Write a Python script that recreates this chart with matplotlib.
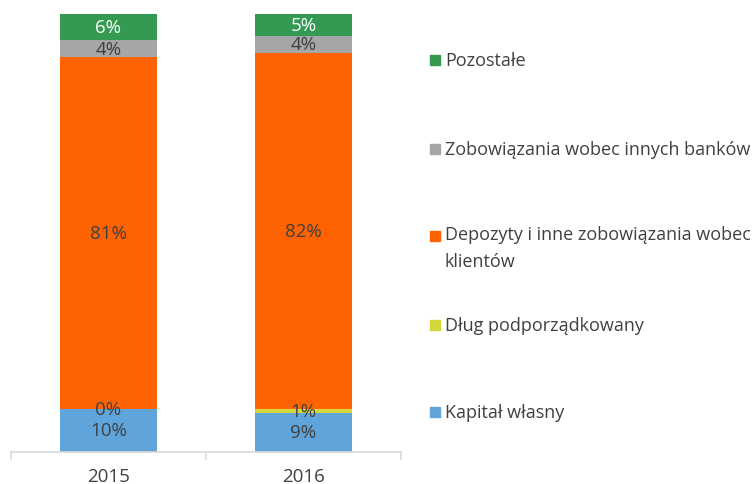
import matplotlib.pyplot as plt
from matplotlib.patches import Rectangle

plt.rcParams['font.family'] = ['Open Sans', 'DejaVu Sans']

years = ['2015', '2016']
series = ['Kapitał własny', 'Dług podporządkowany',
          'Depozyty i inne zobowiązania wobec\nklientów',
          'Zobowiązania wobec innych banków', 'Pozostałe']
kapital = [10, 9]
dlug = [0, 1]
depozyty = [81, 82]
banki = [4, 4]
pozostale = [6, 5]
colors = ['#5FA4DA', '#D2D83C', '#FF6200', '#A6A6A6', '#349A52']
label_colors = ['#404040', '#404040', '#404040', '#404040', 'white']

fig = plt.figure(figsize=(7.55, 4.85), dpi=100)
ax = fig.add_axes([11 / 755, 1 - 453 / 485, 390 / 755, 438 / 485])

x = range(len(years))
bottom = [0, 0]
for vals, col, lc in zip([kapital, dlug, depozyty, banki, pozostale], colors, label_colors):
    ax.bar(x, vals, bottom=bottom, width=0.5, color=col, linewidth=0)
    for i, v in enumerate(vals):
        ax.text(i, bottom[i] + v / 2, f'{v}%', ha='center', va='center',
                fontsize=13.5, color=lc)
    bottom = [b + v for b, v in zip(bottom, vals)]

ax.set_xlim(-0.5, 1.5)
ax.set_ylim(0, max(bottom))
ax.set_yticks([])
for s in ['top', 'right', 'left']:
    ax.spines[s].set_visible(False)
ax.spines['bottom'].set_color('#D9D9D9')
ax.spines['bottom'].set_linewidth(1.2)
ax.set_xticks(list(x))
ax.set_xticklabels(years, fontsize=13.5, color='#404040')
ax.tick_params(axis='x', which='major', length=0, pad=10.5)
ax.set_xticks([-0.5, 0.5, 1.5], minor=True)
ax.tick_params(axis='x', which='minor', length=6, width=1.2, color='#D9D9D9')

# legend drawn by hand, top entry first
legend_y = [61, 150, 237, 326, 413]
for name, col, y in zip(series[::-1], colors[::-1], legend_y):
    fig.patches.append(Rectangle((430 / 755, 1 - (y + 5) / 485), 10 / 755, 10 / 485,
                                 transform=fig.transFigure, color=col))
    if '\n' in name:
        fig.text(445 / 755, 1 - (y - 11) / 485, name, ha='left', va='top',
                 fontsize=13, color='#404040', linespacing=1.65)
    else:
        fig.text(445 / 755, 1 - y / 485, name, ha='left', va='center',
                 fontsize=13, color='#404040')

fig.savefig('out.png', dpi=100)
